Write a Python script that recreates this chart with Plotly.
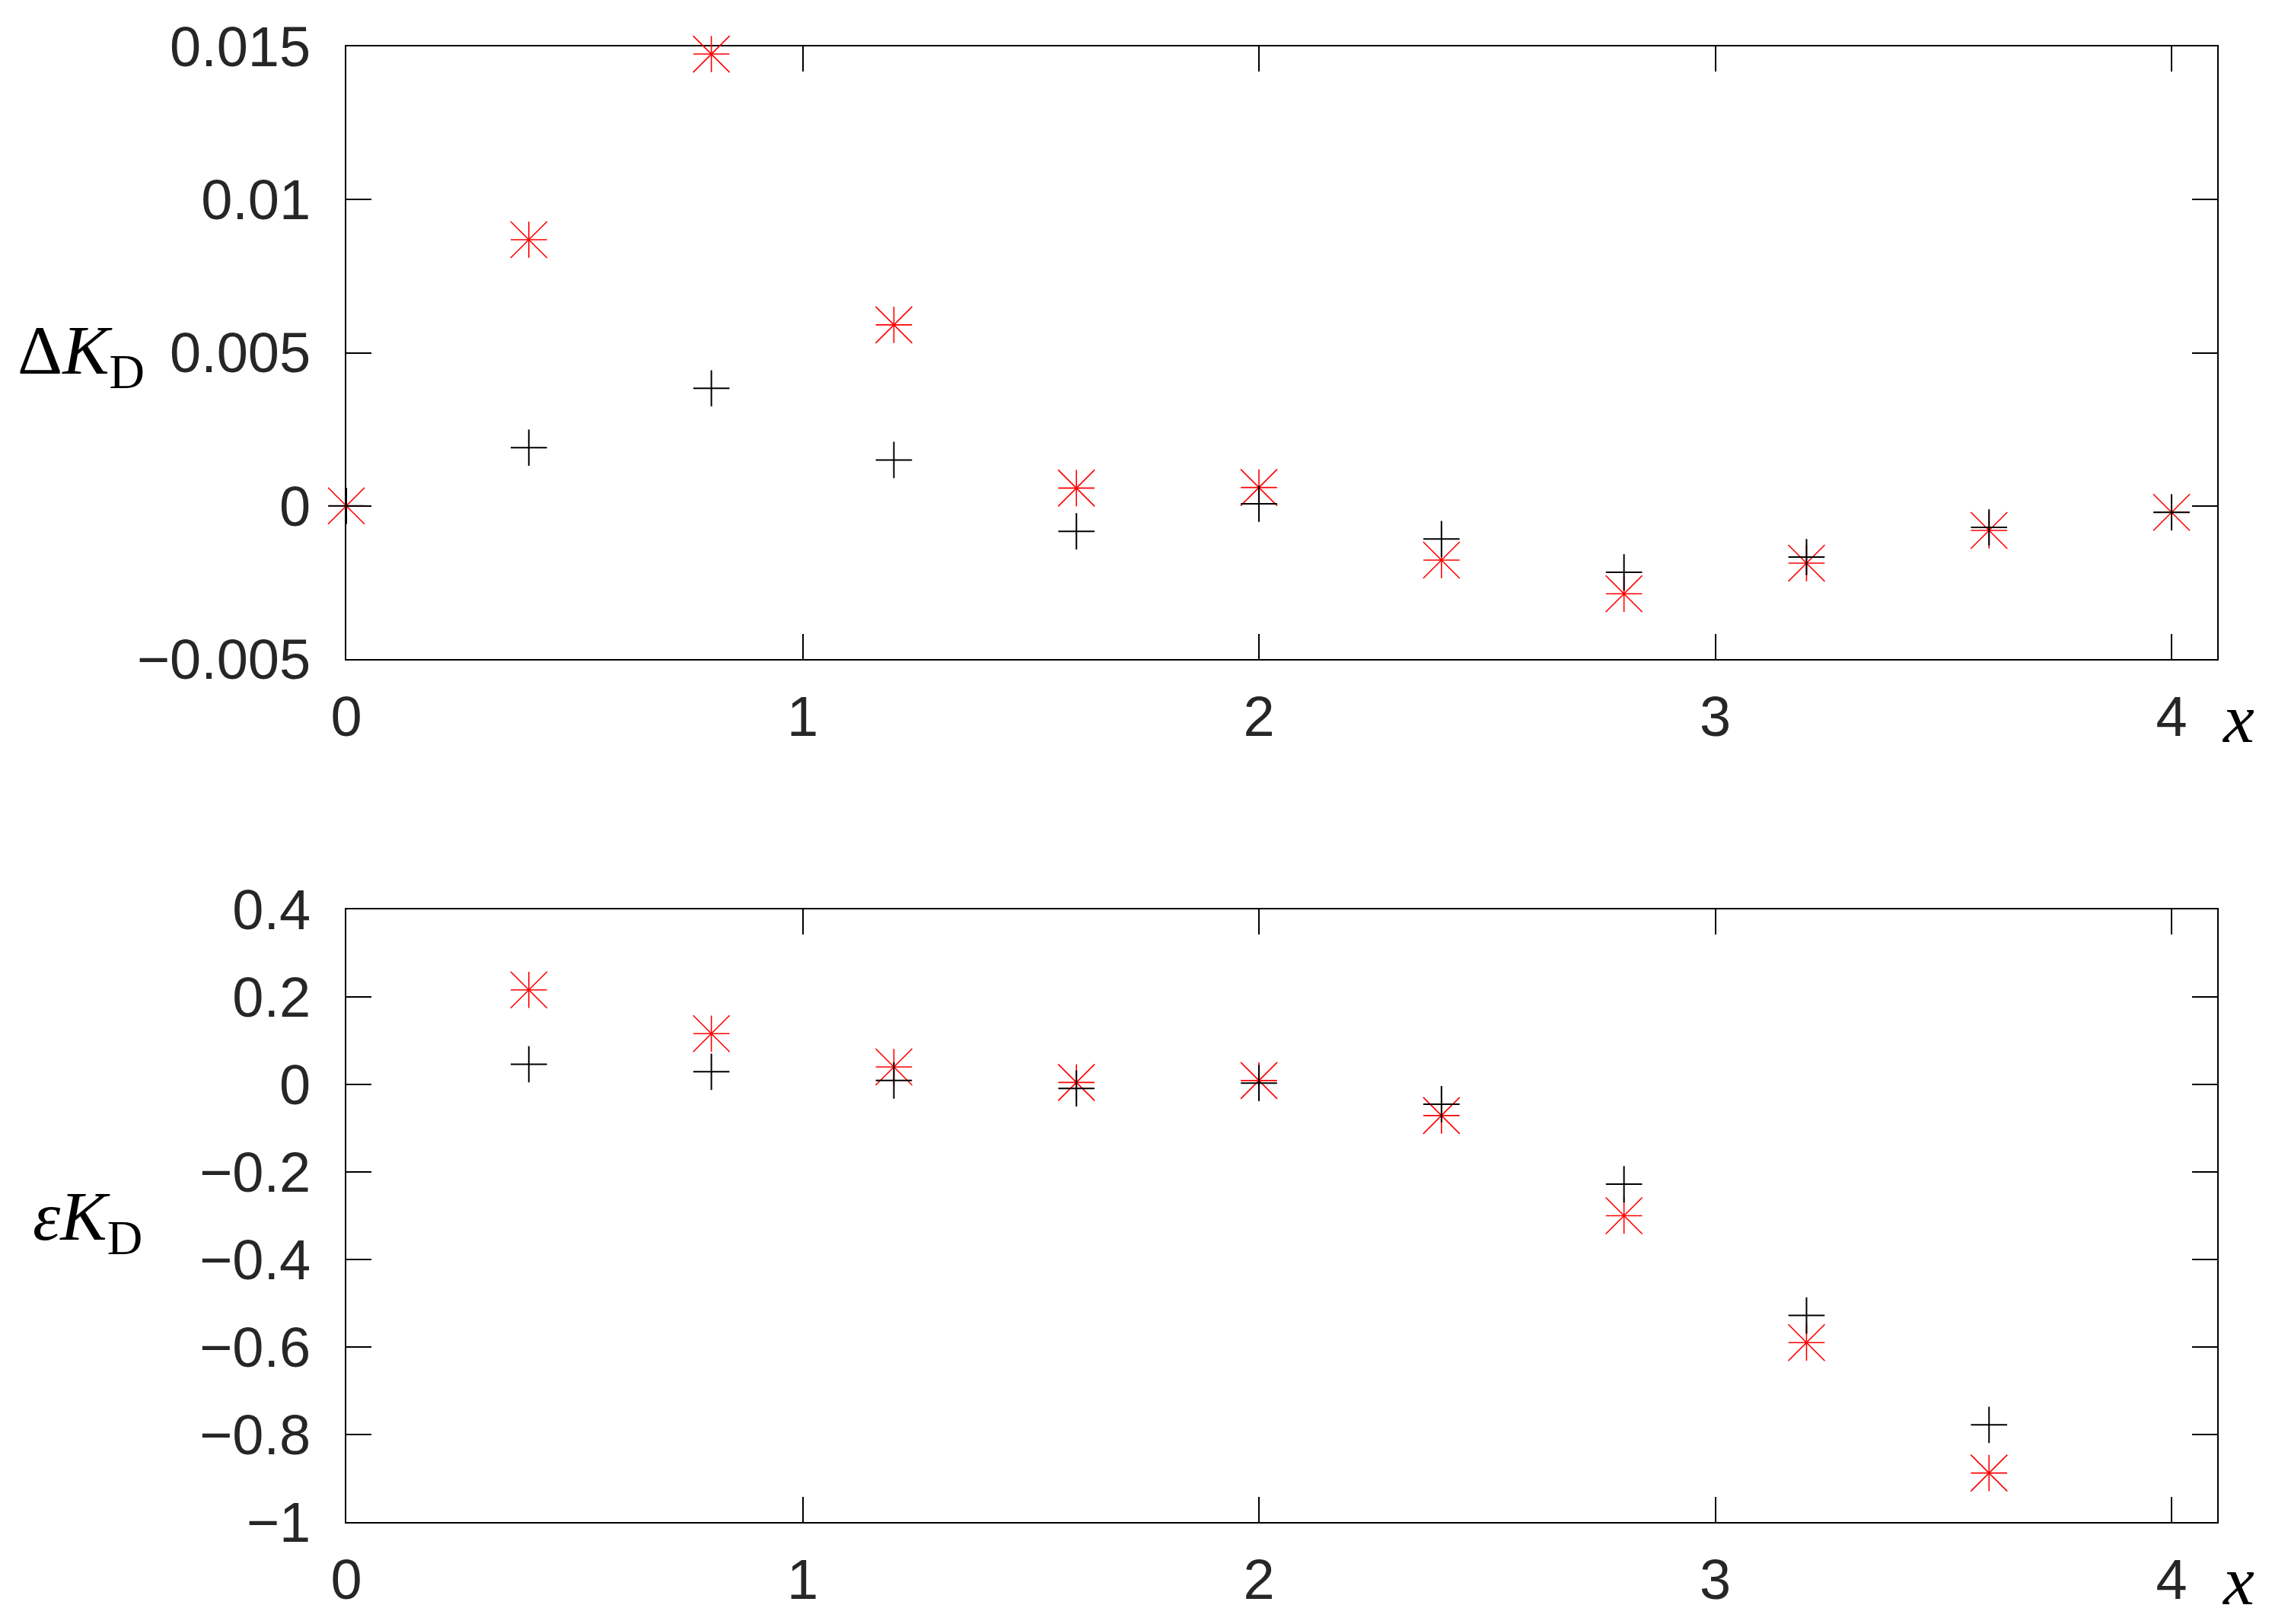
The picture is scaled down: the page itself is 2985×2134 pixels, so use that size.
import plotly.graph_objects as go

# ---------------- data ----------------
x_vals = [0.0, 0.4, 0.8, 1.2, 1.6, 2.0, 2.4, 2.8, 3.2, 3.6, 4.0]

# top panel: Delta K_D
dk_red = [0.0, 0.00869, 0.01475, 0.00591, 0.00058, 0.00060, -0.00177, -0.00287, -0.00187, -0.00080, -0.00021]
dk_black = [0.0, 0.00190, 0.00384, 0.00150, -0.00083, 0.00007, -0.00108, -0.00217, -0.00167, -0.00070, -0.00021]

# bottom panel: epsilon K_D (no values at x=0 and x=4)
ek_x = [0.4, 0.8, 1.2, 1.6, 2.0, 2.4, 2.8, 3.2, 3.6]
ek_red = [0.216, 0.116, 0.040, 0.0045, 0.009, -0.071, -0.300, -0.590, -0.888]
ek_black = [0.046, 0.029, 0.009, -0.009, 0.003, -0.045, -0.228, -0.528, -0.778]

x_ticks = [0, 1, 2, 3, 4]
x_ticktext = ["0", "1", "2", "3", "4"]
top_yticks = [-0.005, 0, 0.005, 0.01, 0.015]
top_yticktext = ["\u22120.005", "0", "0.005", "0.01", "0.015"]
bot_yticks = [-1, -0.8, -0.6, -0.4, -0.2, 0, 0.2, 0.4]
bot_yticktext = ["\u22121", "\u22120.8", "\u22120.6", "\u22120.4", "\u22120.2", "0", "0.2", "0.4"]

OFF = 8  # default page body margin
W, H = 2985 - OFF, 2134 - OFF
RED = "#ff0000"
BLACK = "#000000"
TICKFONT = dict(family="Liberation Sans, Arial, sans-serif", size=74, color="#262626")
LABELFONT = dict(family="Liberation Serif, Times New Roman, serif", size=92, color="#000000")


def px_x(p):
    return (p - OFF) / W


def px_y(p):
    return 1 - (p - OFF) / H


fig = go.Figure()


def add_series(xs, ys, xa, ya):
    # red asterisk = thin cross + thin x overlaid
    fig.add_trace(go.Scatter(x=xs, y=ys, mode="markers", xaxis=xa, yaxis=ya, cliponaxis=False,
                             marker=dict(symbol="cross-thin-open", size=34, color=RED,
                                         line=dict(color=RED, width=1.6)),
                             showlegend=False, hoverinfo="skip"))
    fig.add_trace(go.Scatter(x=xs, y=ys, mode="markers", xaxis=xa, yaxis=ya, cliponaxis=False,
                             marker=dict(symbol="x-thin-open", size=48, color=RED,
                                         line=dict(color=RED, width=1.6)),
                             showlegend=False, hoverinfo="skip"))


# top panel
add_series(x_vals, dk_red, "x", "y")
fig.add_trace(go.Scatter(x=x_vals, y=dk_black, mode="markers", xaxis="x", yaxis="y", cliponaxis=False,
                         marker=dict(symbol="cross-thin-open", size=34, color=BLACK,
                                     line=dict(color=BLACK, width=2)),
                         showlegend=False, hoverinfo="skip"))
# bottom panel
add_series(ek_x, ek_red, "x2", "y2")
fig.add_trace(go.Scatter(x=ek_x, y=ek_black, mode="markers", xaxis="x2", yaxis="y2", cliponaxis=False,
                         marker=dict(symbol="cross-thin-open", size=34, color=BLACK,
                                     line=dict(color=BLACK, width=2)),
                         showlegend=False, hoverinfo="skip"))

xdom = [px_x(455), px_x(2913)]
common_axis = dict(showgrid=False, zeroline=False, showline=True, linecolor="#000000",
                   linewidth=2, mirror="allticks", ticks="inside", ticklen=33,
                   tickwidth=2, tickcolor="#000000", tickfont=TICKFONT, layer="below traces")

fig.update_layout(
    width=W, height=H,
    margin=dict(l=0, r=0, t=0, b=0, pad=0, autoexpand=False),
    paper_bgcolor="white", plot_bgcolor="white",
    xaxis=dict(domain=xdom, range=[0, 4.1], anchor="y", tickmode="array",
               tickvals=x_ticks, ticktext=x_ticktext, ticklabelstandoff=10, **common_axis),
    yaxis=dict(domain=[px_y(866), px_y(61)], range=[-0.005, 0.015], anchor="x",
               tickmode="array", tickvals=top_yticks, ticktext=top_yticktext,
               ticklabelstandoff=30, **common_axis),
    xaxis2=dict(domain=xdom, range=[0, 4.1], anchor="y2", tickmode="array",
                tickvals=x_ticks, ticktext=x_ticktext, ticklabelstandoff=10, **common_axis),
    yaxis2=dict(domain=[px_y(2000), px_y(1195)], range=[-1, 0.4], anchor="x2",
                tickmode="array", tickvals=bot_yticks, ticktext=bot_yticktext,
                ticklabelstandoff=30, **common_axis),
)

annotations = [
    dict(text="\u0394<i>K</i><sub>D</sub>", x=px_x(192), y=px_y(466), xanchor="right", yanchor="middle"),
    dict(text="<i>\u03b5K</i><sub>D</sub>", x=px_x(189), y=px_y(1605), xanchor="right", yanchor="middle"),
    dict(text="<i>x</i>", x=px_x(2940), y=px_y(944), xanchor="center", yanchor="middle"),
    dict(text="<i>x</i>", x=px_x(2940), y=px_y(2077), xanchor="center", yanchor="middle"),
]
for a in annotations:
    fig.add_annotation(xref="paper", yref="paper", showarrow=False, font=LABELFONT, **a)

fig.write_html("out.html")
